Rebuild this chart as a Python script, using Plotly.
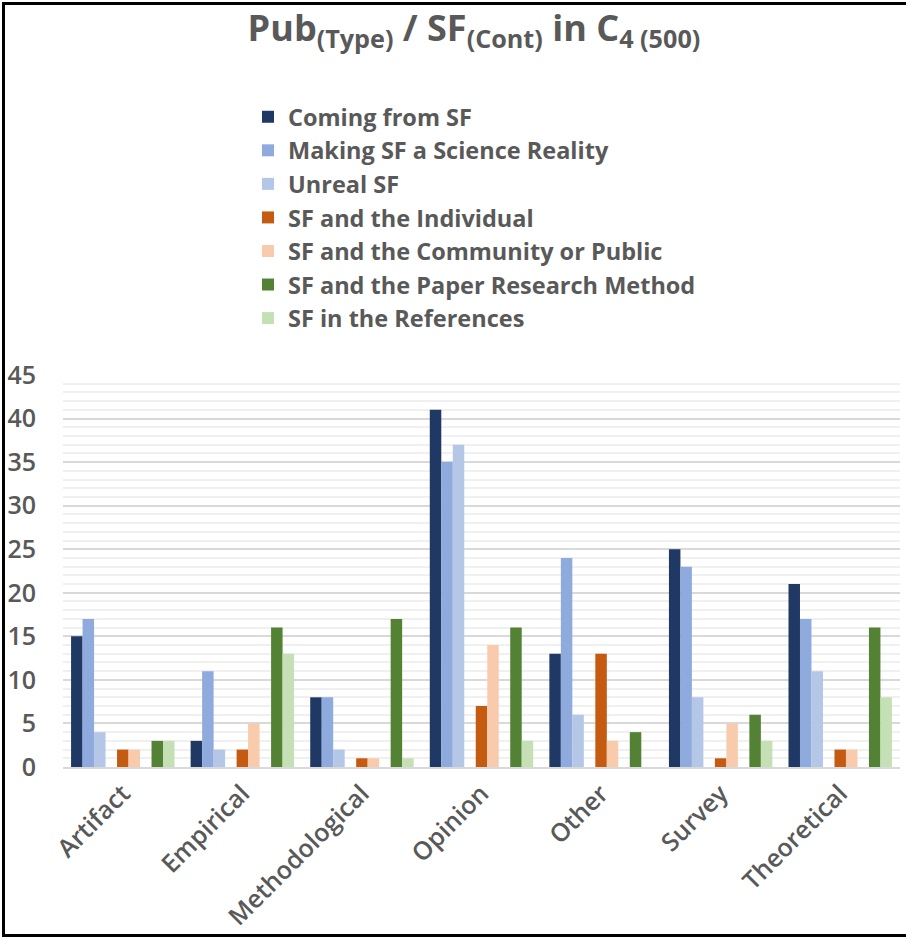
import plotly.graph_objects as go

# Publication types on the x axis
categories = ["Artifact", "Empirical", "Methodological", "Opinion", "Other", "Survey", "Theoretical"]

# SF content counts per publication type
coming_from_sf = [15, 3, 8, 41, 13, 25, 21]
making_sf_reality = [17, 11, 8, 35, 24, 23, 17]
unreal_sf = [4, 2, 2, 37, 6, 8, 11]
sf_individual = [2, 2, 1, 7, 13, 1, 2]
sf_community = [2, 5, 1, 14, 3, 5, 2]
sf_research_method = [3, 16, 17, 16, 4, 6, 16]
sf_references = [3, 13, 1, 3, 0, 3, 8]

# empty slots that keep the blue, orange and green families apart in each cluster
spacer = [0, 0, 0, 0, 0, 0, 0]

series = [
    ("Coming from SF", coming_from_sf, "#203864"),
    ("Making SF a Science Reality", making_sf_reality, "#8FAADC"),
    ("Unreal SF", unreal_sf, "#B4C7E7"),
    (None, spacer, "rgba(0,0,0,0)"),
    ("SF and the Individual", sf_individual, "#C55A11"),
    ("SF and the Community or Public", sf_community, "#F8CBAD"),
    (None, spacer, "rgba(0,0,0,0)"),
    ("SF and the Paper Research Method", sf_research_method, "#548235"),
    ("SF in the References", sf_references, "#C5E0B4"),
]

FONT = "Open Sans"
GREY = "#595959"

W, H = 906, 937
ML, MR, MT, MB = 63, 6, 375, 170

fig = go.Figure()
for name, vals, color in series:
    fig.add_trace(go.Bar(
        x=categories,
        y=vals,
        name=name if name else "",
        showlegend=name is not None,
        marker=dict(color=color, line=dict(width=0)),
        hoverinfo="skip" if name is None else None,
    ))

fig.update_layout(
    width=W,
    height=H,
    margin=dict(l=ML, r=MR, t=MT, b=MB, pad=0, autoexpand=False),
    paper_bgcolor="white",
    plot_bgcolor="white",
    barmode="group",
    bargap=0.135,
    bargroupgap=0,
    font=dict(family=FONT, color=GREY, size=24, weight=600),
    title=dict(
        text="Pub<sub>(Type)</sub> / SF<sub>(Cont)</sub> in C<sub>4 (500)</sub>",
        x=474 / W,
        xanchor="center",
        xref="container",
        y=1 - 28 / H,
        yanchor="middle",
        yref="container",
        font=dict(family=FONT, size=36, color=GREY, weight=700),
    ),
    legend=dict(
        x=(248 - ML) / (W - ML - MR),
        xanchor="left",
        y=1 - 95 / H,
        yanchor="top",
        yref="container",
        font=dict(family=FONT, size=23.5, color=GREY, weight=700),
        bgcolor="rgba(0,0,0,0)",
        traceorder="normal",
    ),
    xaxis=dict(
        automargin=False,
        tickangle=-45,
        tickfont=dict(family=FONT, size=25, color=GREY, weight=600),
        showline=True,
        linecolor="#D9D9D9",
        linewidth=2,
        ticks="",
        showgrid=False,
    ),
    yaxis=dict(
        automargin=False,
        range=[0, 45],
        dtick=5,
        tickfont=dict(family=FONT, size=25, color=GREY, weight=600),
        showgrid=True,
        gridcolor="#D9D9D9",
        gridwidth=2,
        zeroline=False,
        ticks="",
        ticklabelstandoff=26,
        minor=dict(dtick=1, showgrid=True, gridcolor="#F0F0F0", gridwidth=2),
    ),
    shapes=[
        dict(
            type="rect",
            xref="paper",
            yref="paper",
            x0=(3.5 - ML) / (W - ML - MR),
            x1=(W + 10 - ML) / (W - ML - MR),
            y0=(H - MB - 935.5) / (H - MT - MB),
            y1=(H - MB - 3.5) / (H - MT - MB),
            line=dict(color="black", width=3),
            fillcolor="rgba(0,0,0,0)",
            layer="above",
        )
    ],
)

fig.write_html("out.html")
